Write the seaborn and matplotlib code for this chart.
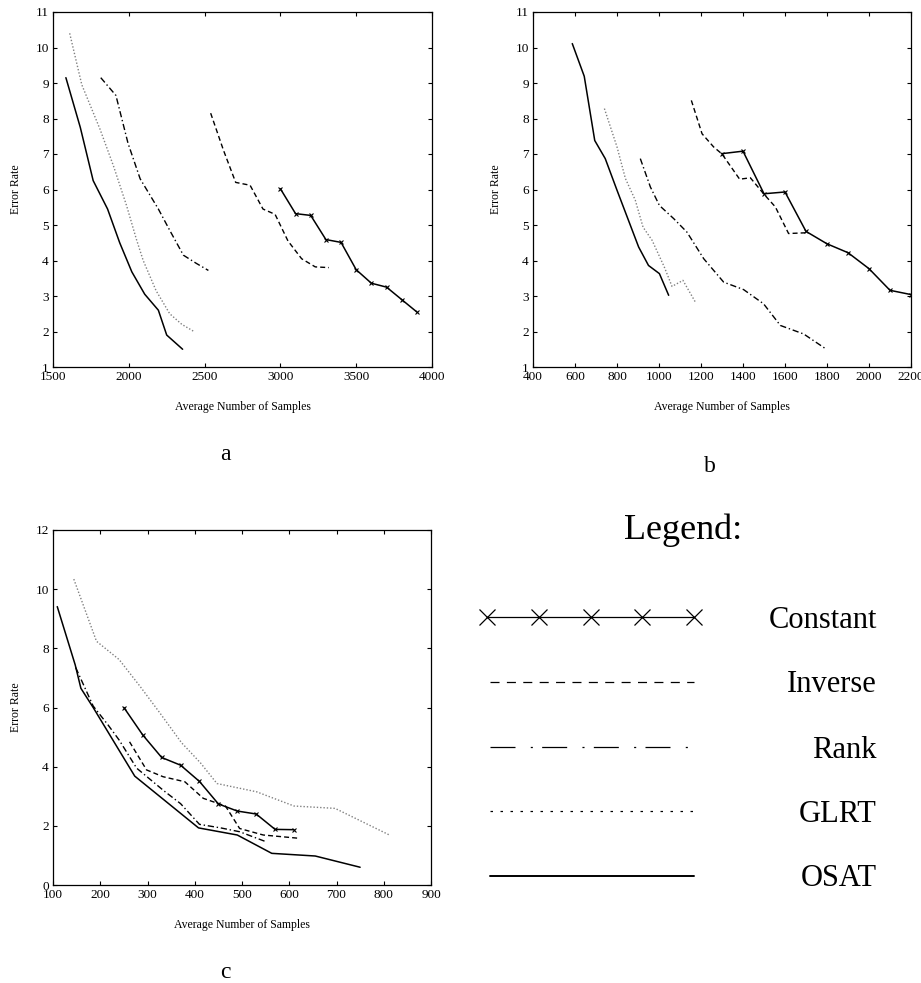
import numpy as np
import pandas as pd
import matplotlib
matplotlib.use("Agg")
import matplotlib.pyplot as plt
import seaborn as sns

# Valores (Error Rate vs Average Number of Samples)
# Panel a
osat_a_x = [1585, 1680, 1765, 1860, 1940, 2020, 2105, 2195, 2250, 2355]
osat_a_y = [9.15, 7.75, 6.25, 5.45, 4.5, 3.68, 3.05, 2.6, 1.9, 1.5]
glrt_a_x = [1610, 1690, 1810, 1900, 1985, 2050, 2095, 2180, 2270, 2350, 2430]
glrt_a_y = [10.4, 8.95, 7.7, 6.65, 5.55, 4.6, 4.0, 3.15, 2.5, 2.2, 2.0]
rank_a_x = [1815, 1915, 1995, 2075, 2195, 2270, 2360, 2445, 2525]
rank_a_y = [9.15, 8.65, 7.3, 6.3, 5.45, 4.85, 4.15, 3.92, 3.72]
inverse_a_x = [2540, 2625, 2705, 2800, 2885, 2965, 3050, 3140, 3230, 3320]
inverse_a_y = [8.15, 7.1, 6.2, 6.12, 5.45, 5.3, 4.55, 4.05, 3.82, 3.8]
constant_a_x = [3000, 3100, 3200, 3300, 3400, 3500, 3600, 3700, 3800, 3900]
constant_a_y = [6.02, 5.32, 5.27, 4.59, 4.51, 3.74, 3.36, 3.25, 2.9, 2.55]

# Panel b
osat_b_x = [587, 644, 694, 744, 800, 903, 950, 1002, 1046]
osat_b_y = [10.11, 9.19, 7.38, 6.87, 5.98, 4.38, 3.86, 3.63, 3.02]
glrt_b_x = [740, 800, 840, 887, 924, 967, 1025, 1062, 1114, 1173]
glrt_b_y = [8.28, 7.2, 6.31, 5.7, 4.94, 4.57, 3.82, 3.27, 3.44, 2.83]
rank_b_x = [911, 959, 1002, 1070, 1133, 1213, 1308, 1403, 1498, 1578, 1689, 1792]
rank_b_y = [6.87, 6.07, 5.55, 5.18, 4.8, 4.05, 3.39, 3.18, 2.78, 2.17, 1.93, 1.52]
inverse_b_x = [1154, 1205, 1260, 1300, 1384, 1435, 1498, 1554, 1617, 1697]
inverse_b_y = [8.51, 7.57, 7.2, 7.0, 6.29, 6.33, 5.88, 5.51, 4.76, 4.78]
constant_b_x = [1300, 1400, 1500, 1600, 1700, 1800, 1900, 2000, 2100, 2200]
constant_b_y = [7.01, 7.08, 5.88, 5.93, 4.82, 4.47, 4.22, 3.77, 3.16, 3.04]

# Panel c
osat_c_x = [109, 147, 159, 185, 273, 408, 490, 563, 655, 750]
osat_c_y = [9.41, 7.44, 6.65, 6.0, 3.68, 1.93, 1.69, 1.07, 0.98, 0.6]
glrt_c_x = [144, 192, 240, 284, 326, 372, 412, 447, 531, 610, 697, 812]
glrt_c_y = [10.34, 8.24, 7.62, 6.72, 5.82, 4.81, 4.13, 3.43, 3.15, 2.67, 2.59, 1.69]
rank_c_x = [148, 185, 217, 240, 277, 335, 370, 410, 455, 495, 548]
rank_c_y = [7.35, 6.05, 5.4, 4.9, 3.95, 3.18, 2.75, 2.05, 1.93, 1.8, 1.48]
inverse_c_x = [262, 298, 333, 379, 418, 465, 495, 545, 620]
inverse_c_y = [4.84, 3.89, 3.66, 3.49, 2.93, 2.67, 1.91, 1.69, 1.58]
constant_c_x = [250, 290, 330, 370, 410, 450, 490, 530, 570, 610]
constant_c_y = [6.0, 5.07, 4.31, 4.05, 3.5, 2.74, 2.5, 2.4, 1.88, 1.87]

metodos = ["Constant", "Inverse", "Rank", "GLRT", "OSAT"]

# Estilos (dashes en puntos)
estilos = {
    "Constant": dict(color="black", linestyle="-", linewidth=1.1, marker="x",
                     markersize=3.5, markeredgecolor="black", markeredgewidth=0.8),
    "Inverse": dict(color="black", linestyle=(0, (3.6, 2.2)), linewidth=1.0),
    "Rank": dict(color="black", linestyle=(0, (4.5, 2, 1, 2)), linewidth=1.0),
    "GLRT": dict(color="#808080", linestyle=(0, (1, 1.4)), linewidth=1.0),
    "OSAT": dict(color="black", linestyle="-", linewidth=1.1),
}

paneles = [
    dict(series={"OSAT": (osat_a_x, osat_a_y), "GLRT": (glrt_a_x, glrt_a_y),
                 "Rank": (rank_a_x, rank_a_y), "Inverse": (inverse_a_x, inverse_a_y),
                 "Constant": (constant_a_x, constant_a_y)},
         rect=[53, 12, 432, 367], xlim=(1500, 4000), ylim=(1, 11),
         xticks=np.arange(1500, 4001, 500), yticks=np.arange(1, 12, 1),
         letra="a", letra_pos=(225, 455)),
    dict(series={"OSAT": (osat_b_x, osat_b_y), "GLRT": (glrt_b_x, glrt_b_y),
                 "Rank": (rank_b_x, rank_b_y), "Inverse": (inverse_b_x, inverse_b_y),
                 "Constant": (constant_b_x, constant_b_y)},
         rect=[533, 12, 911, 367], xlim=(400, 2200), ylim=(1, 11),
         xticks=np.arange(400, 2201, 200), yticks=np.arange(1, 12, 1),
         letra="b", letra_pos=(710, 467)),
    dict(series={"OSAT": (osat_c_x, osat_c_y), "GLRT": (glrt_c_x, glrt_c_y),
                 "Rank": (rank_c_x, rank_c_y), "Inverse": (inverse_c_x, inverse_c_y),
                 "Constant": (constant_c_x, constant_c_y)},
         rect=[53, 530, 431, 885], xlim=(100, 900), ylim=(0, 12),
         xticks=np.arange(100, 901, 100), yticks=np.arange(0, 13, 2),
         letra="c", letra_pos=(225, 972)),
]

sns.set_style("ticks")
plt.rcParams["font.family"] = ["Liberation Serif", "DejaVu Serif"]
plt.rcParams["lines.scale_dashes"] = False
plt.rcParams["xtick.direction"] = "in"
plt.rcParams["ytick.direction"] = "in"
plt.rcParams["text.color"] = "black"
plt.rcParams["axes.labelcolor"] = "black"

W, H = 921, 983
fig = plt.figure(figsize=(W / 100, H / 100), dpi=100)


def fx(px):
    return px / W


def fy(py):
    return 1 - py / H


for p in paneles:
    x0, y0, x1, y1 = p["rect"]
    ax = fig.add_axes([fx(x0), fy(y1), fx(x1) - fx(x0), fy(y0) - fy(y1)])
    for nombre in ["OSAT", "GLRT", "Rank", "Inverse", "Constant"]:
        xs, ys = p["series"][nombre]
        df = pd.DataFrame({"x": xs, "y": ys})
        sns.lineplot(data=df, x="x", y="y", ax=ax, estimator=None, sort=False,
                     **estilos[nombre])
    ax.set_xlim(*p["xlim"])
    ax.set_ylim(*p["ylim"])
    ax.set_xticks(p["xticks"])
    ax.set_yticks(p["yticks"])
    ax.tick_params(axis="both", which="both", direction="in", top=True, right=True,
                   length=3, width=0.8, labelsize=9.5, pad=3, colors="black")
    for sp in ax.spines.values():
        sp.set_visible(True)
        sp.set_linewidth(0.9)
        sp.set_color("black")
    ax.set_xlabel("Average Number of Samples", fontsize=8.5, labelpad=13)
    ax.set_ylabel("Error Rate", fontsize=8.5, labelpad=10)
    fig.text(fx(p["letra_pos"][0]), fy(p["letra_pos"][1]), p["letra"],
             fontsize=17, ha="center", va="center")

# Leyenda dibujada a mano en el cuadrante inferior derecho
ax_leg = fig.add_axes([0, 0, 1, 1])
ax_leg.set_xlim(0, W)
ax_leg.set_ylim(H, 0)
ax_leg.axis("off")
ax_leg.text(683, 530, "Legend:", fontsize=26, ha="center", va="center")

leg_y = {"Constant": 617, "Inverse": 682, "Rank": 747, "GLRT": 811, "OSAT": 876}
leg_estilos = {
    "Constant": dict(color="black", linestyle="-", linewidth=0.9),
    "Inverse": dict(color="black", linestyle=(0, (6.5, 5.3)), linewidth=0.9),
    "Rank": dict(color="black", linestyle=(0, (18, 11, 1.5, 6.7)), linewidth=0.9),
    "GLRT": dict(color="black", linestyle=(0, (1.8, 5.4)), linewidth=0.9),
    "OSAT": dict(color="black", linestyle="-", linewidth=1.4),
}
for nombre in metodos:
    yy = leg_y[nombre]
    x_ini, x_fin = (487, 694) if nombre == "Constant" else (490, 694)
    ax_leg.plot([x_ini, x_fin], [yy, yy], **leg_estilos[nombre])
    if nombre == "Constant":
        xm = np.linspace(x_ini, x_fin, 5)
        ax_leg.plot(xm, [yy] * 5, linestyle="none", marker="x", markersize=12,
                    markeredgewidth=0.9, color="black")
    ax_leg.text(877, yy + 3, nombre, fontsize=22, ha="right", va="center")

fig.savefig("out.png", dpi=100)
